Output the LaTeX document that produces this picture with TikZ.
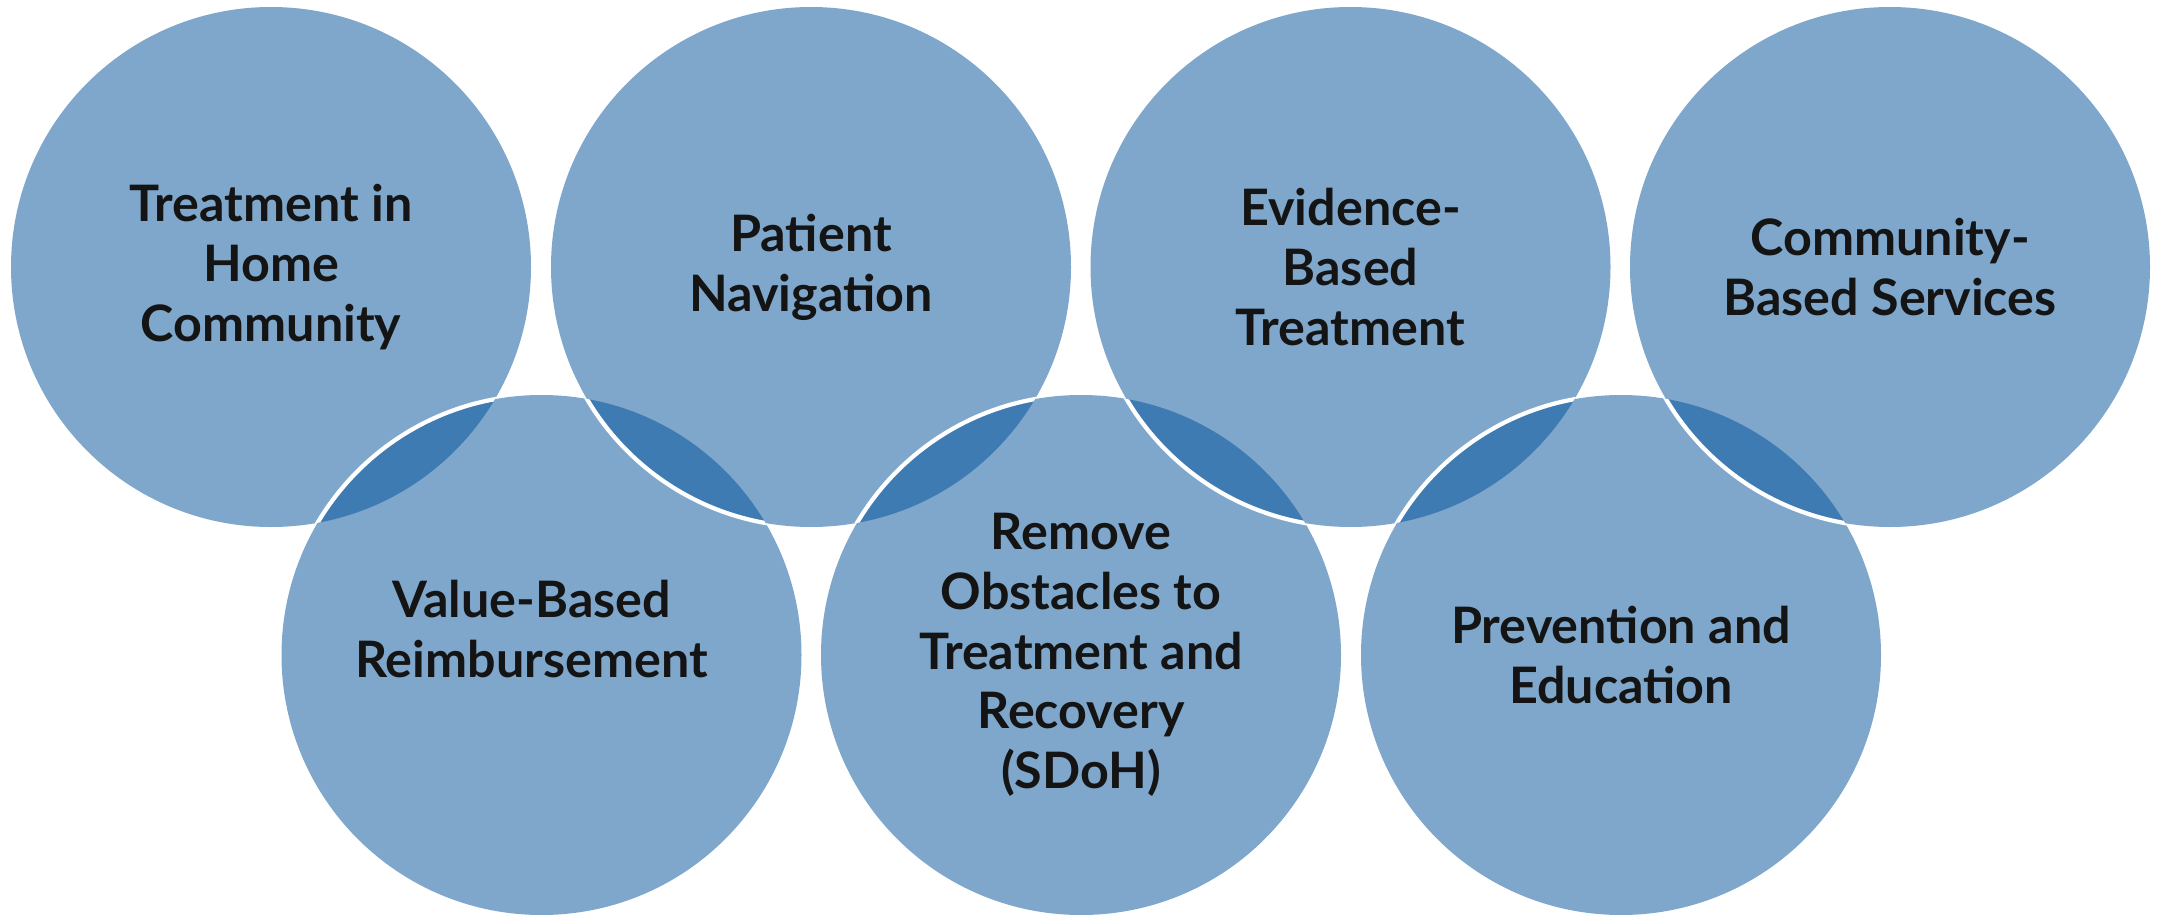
\documentclass[tikz,border=0pt]{standalone}
\usepackage{fontspec}
\setmainfont{Lato}
\usetikzlibrary{positioning}
\definecolor{corDisc}{RGB}{127,167,203}
\definecolor{corLens}{RGB}{63,123,179}
\definecolor{corText}{RGB}{20,20,20}

\begin{document}
\begin{tikzpicture}[
    disc/.style={circle, minimum size=5.2cm, inner sep=0pt, fill=corDisc},
    txt/.style={align=center, text=corText, inner sep=1pt,
      font=\bfseries\fontsize{14.3}{17}\selectfont},
    rim/.style={draw=white, line width=1.2pt}]
  \useasboundingbox (0,0) rectangle (21.64,9.14);
  \node[disc] (t1) at (2.71,6.47) {};
  \node[disc] (t2) at (8.11,6.47) {};
  \node[disc] (t3) at (13.505,6.47) {};
  \node[disc] (t4) at (18.90,6.47) {};
  \node[disc] (b1) at (5.415,2.59) {};
  \node[disc] (b2) at (10.81,2.59) {};
  \node[disc] (b3) at (16.21,2.59) {};
  \foreach \lo/\hi in {t1/b1,b1/t2,t2/b2,b2/t3,t3/b3,b3/t4}{
    \begin{scope}
      \clip (\lo.center) circle (2.6cm);
      \fill[corLens] (\hi.center) circle (2.6cm);
      \draw[rim] (\hi.center) circle (2.6cm);
    \end{scope}}
  \node[txt] (t1txt) at (t1) {Treatment in\\Home\\Community};
  \node[txt] (t2txt) at (t2) {Patient\\Navigation};
  \node[txt] (t3txt) at (t3) {Evidence-\\Based\\Treatment};
  \node[txt] (t4txt) at (t4) {Community-\\Based Services};
  \node[txt, xshift=-1mm, yshift=2.6mm] (b1txt) at (b1) {Value-Based\\Reimbursement};
  \node[txt] (b2txt) at (b2) {Remove\\Obstacles to\\Treatment and\\Recovery\\(SDoH)};
  \node[txt] (b3txt) at (b3) {Prevention and\\Education};
\end{tikzpicture}
\end{document}
